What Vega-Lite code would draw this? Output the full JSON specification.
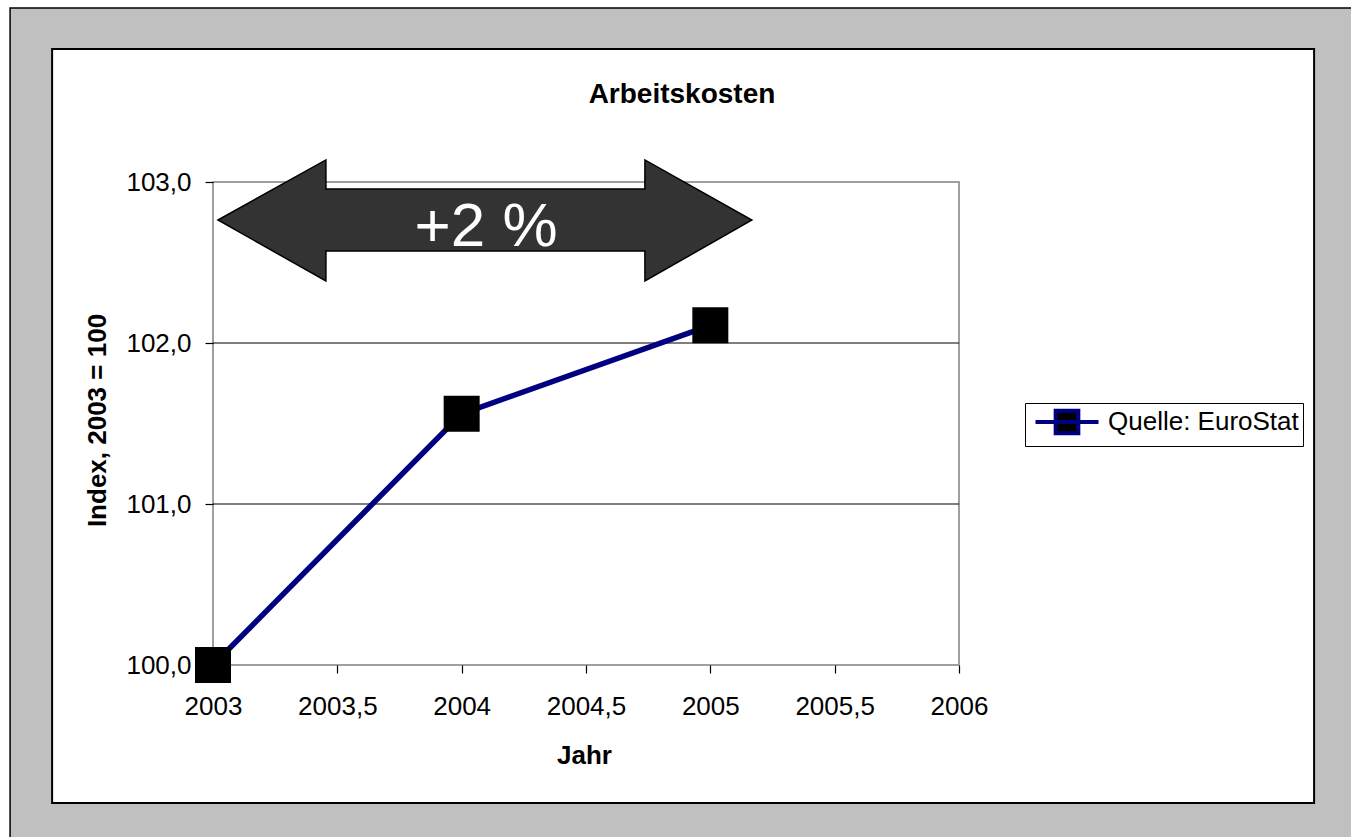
{
  "$schema": "https://vega.github.io/schema/vega-lite/v6.json",
  "autosize": {"type": "none"},
  "width": 746,
  "height": 483,
  "padding": {"left": 213, "top": 182, "right": 392, "bottom": 172},
  "background": "white",
  "config": {
    "font": "Liberation Sans",
    "view": {"stroke": null}
  },
  "title": {
    "text": "Arbeitskosten",
    "font": "Liberation Sans",
    "fontSize": 28,
    "fontWeight": "bold",
    "color": "black",
    "anchor": "middle",
    "frame": "group",
    "baseline": "alphabetic",
    "dx": 96,
    "offset": -124
  },
  "layer": [
    {
      "data": {"values": [{"x1": 2002.184, "x2": 2007.8, "y1": 98.5, "y2": 104.081}]},
      "mark": {"type": "rect", "fill": "#c0c0c0", "stroke": "black", "strokeWidth": 1.5, "clip": false},
      "encoding": {
        "x": {"field": "x1", "type": "quantitative", "scale": {"domain": [2003, 2006], "nice": false, "zero": false}},
        "x2": {"field": "x2"},
        "y": {"field": "y1", "type": "quantitative", "scale": {"domain": [100, 103], "nice": false, "zero": false}},
        "y2": {"field": "y2"}
      }
    },
    {
      "data": {"values": [{"x1": 2002.353, "x2": 2007.428, "y1": 99.143, "y2": 103.826}]},
      "mark": {"type": "rect", "fill": "white", "stroke": "black", "strokeWidth": 2, "clip": false},
      "encoding": {
        "x": {"field": "x1", "type": "quantitative"},
        "x2": {"field": "x2"},
        "y": {"field": "y1", "type": "quantitative"},
        "y2": {"field": "y2"}
      }
    },
    {
      "data": {"values": [{"x1": 2003, "x2": 2006, "y1": 100, "y2": 103}]},
      "mark": {"type": "rect", "fill": null, "fillOpacity": 0, "stroke": "#808080", "strokeWidth": 1.5},
      "encoding": {
        "x": {"field": "x1", "type": "quantitative"},
        "x2": {"field": "x2"},
        "y": {"field": "y1", "type": "quantitative"},
        "y2": {"field": "y2"}
      }
    },
    {
      "data": {"values": [{"v": 101}, {"v": 102}]},
      "mark": {"type": "rule", "color": "black", "strokeWidth": 1.2},
      "encoding": {
        "y": {"field": "v", "type": "quantitative"}
      }
    },
    {
      "data": {"values": [
        {"year": 2003, "value": 100.0, "series": "Quelle: EuroStat"},
        {"year": 2004, "value": 101.56, "series": "Quelle: EuroStat"},
        {"year": 2005, "value": 102.11, "series": "Quelle: EuroStat"}
      ]},
      "layer": [
        {
          "mark": {"type": "line", "strokeWidth": 5.5},
          "encoding": {
            "x": {
              "field": "year", "type": "quantitative",
              "axis": {
                "values": [2003, 2003.5, 2004, 2004.5, 2005, 2005.5, 2006],
                "labelExpr": "replace(format(datum.value, '~g'), '.', ',')",
                "labelFont": "Liberation Sans", "labelFontSize": 26, "labelColor": "black",
                "labelPadding": 20, "labelFlush": false,
                "tickColor": "black", "tickSize": 8, "tickWidth": 1.2,
                "domain": false, "grid": false, "zindex": 1,
                "title": "Jahr", "titleFont": "Liberation Sans", "titleFontSize": 26, "titleFontWeight": "bold",
                "titleColor": "black", "titleX": 371, "titleY": 98, "titleBaseline": "alphabetic"
              }
            },
            "y": {
              "field": "value", "type": "quantitative",
              "axis": {
                "values": [100, 101, 102, 103],
                "labelExpr": "replace(format(datum.value, '.1f'), '.', ',')",
                "labelFont": "Liberation Sans", "labelFontSize": 26, "labelColor": "black",
                "labelPadding": 14,
                "tickColor": "black", "tickSize": 8, "tickWidth": 1.2,
                "domain": false, "grid": false, "zindex": 1,
                "title": "Index, 2003 = 100", "titleFont": "Liberation Sans", "titleFontSize": 26, "titleFontWeight": "bold",
                "titleColor": "black", "titleX": -108, "titleY": 238, "titleBaseline": "alphabetic", "titleAngle": 270
              }
            },
            "color": {
              "field": "series", "type": "nominal",
              "scale": {"range": ["#000080"]},
              "legend": {
                "title": null,
                "orient": "none",
                "legendX": 812,
                "legendY": 221,
                "padding": 4,
                "strokeColor": "black",
                "fillColor": "white",
                "symbolType": "M-2.5,0H2.5M-0.9,-0.9H0.9V0.9H-0.9Z",
                "symbolSize": 635,
                "symbolOffset": 23,
                "symbolStrokeWidth": 4,
                "symbolFillColor": "black",
                "symbolStrokeColor": "#000080",
                "labelOffset": 26,
                "labelFont": "Liberation Sans",
                "labelFontSize": 26,
                "labelColor": "black",
                "labelLimit": 400,
                "zindex": 2,
                "encode": {"symbols": {"update": {"fill": {"value": "black"}, "stroke": {"value": "#000080"}, "strokeWidth": {"value": 4}, "opacity": {"value": 1}}}}
              }
            }
          }
        },
        {
          "mark": {"type": "point", "shape": "square", "filled": true, "size": 1296, "color": "black", "opacity": 1},
          "encoding": {
            "x": {"field": "year", "type": "quantitative"},
            "y": {"field": "value", "type": "quantitative"}
          }
        }
      ]
    },
    {
      "data": {"values": [
        {"x": 2003.0200, "top": 102.764, "bottom": 102.764},
        {"x": 2003.4540, "top": 103.137, "bottom": 102.385},
        {"x": 2003.4542, "top": 102.957, "bottom": 102.571},
        {"x": 2004.7368, "top": 102.957, "bottom": 102.571},
        {"x": 2004.7370, "top": 103.137, "bottom": 102.385},
        {"x": 2005.1670, "top": 102.764, "bottom": 102.764}
      ]},
      "mark": {"type": "area", "color": "#333333", "stroke": "black", "strokeWidth": 1.5, "opacity": 1, "fillOpacity": 1, "clip": false, "orient": "vertical"},
      "encoding": {
        "x": {"field": "x", "type": "quantitative"},
        "y": {"field": "top", "type": "quantitative", "stack": null},
        "y2": {"field": "bottom"}
      }
    },
    {
      "data": {"values": [{"x": 2004.098, "y": 102.602, "label": "+2 %"}]},
      "mark": {"type": "text", "font": "Liberation Sans", "fontSize": 62, "color": "white", "align": "center", "baseline": "alphabetic", "clip": false},
      "encoding": {
        "x": {"field": "x", "type": "quantitative"},
        "y": {"field": "y", "type": "quantitative"},
        "text": {"field": "label"}
      }
    }
  ]
}
